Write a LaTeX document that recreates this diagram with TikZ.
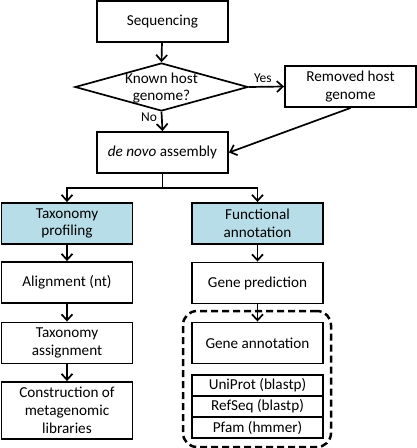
\documentclass[tikz,border=0pt]{standalone}
\usepackage{fontspec}
\setmainfont{Carlito}
\usetikzlibrary{arrows.meta,shapes.geometric}
\definecolor{hdrblue}{RGB}{183,222,232}
\tikzset{
  box/.style={draw, line width=1.9pt, minimum width=131pt, minimum height=41pt, inner sep=0pt, align=center, font=\fontsize{15.2}{17.8}\selectfont},
  hdr/.style={box, fill=hdrblue},
  dbbox/.style={box, minimum height=21pt},
  arr/.style={line width=1.7pt, -{Straight Barb[length=6pt,width=11pt,line width=1.7pt]}},
  conn/.style={line width=1.7pt},
  lbl/.style={font=\fontsize{13.5}{15}\selectfont, inner sep=0pt},
  grp/.style={draw, line width=2.5pt, dash pattern=on 7pt off 4pt, rounded corners=14pt, minimum width=148pt, minimum height=136pt, inner sep=0pt}
}
\begin{document}
\begin{tikzpicture}[x=1pt,y=-1pt]
\useasboundingbox (0,0) rectangle (417,448);
\node[box] (seq) at (162.5,21.5) {Sequencing};
\node[draw, diamond, line width=1.7pt, minimum width=173pt, minimum height=48pt, inner sep=0pt] (dia) at (161.5,87) {};
\node[align=center, inner sep=0pt, font=\fontsize{15.2}{17.8}\selectfont] (diatext) at (161.5,88) {Known host\\genome?};
\node[box] (rem) at (350.5,86.5) {Removed host\\genome};
\node[box] (asm) at (162.5,152.5) {\textit{de novo} assembly};
\node[hdr] (tax) at (67,223.5) {Taxonomy\\profiling};
\node[hdr] (fun) at (257.5,223.5) {Functional\\annotation};
\node[box] (aln) at (67,282.5) {Alignment (nt)};
\node[box] (gp) at (257.5,283) {Gene prediction};
\node[box] (tas) at (67,343) {Taxonomy\\assignment};
\node[box, minimum height=57pt] (con) at (67,410.5) {Construction of\\metagenomic\\libraries};
\node[grp] (grp) at (257,379) {};
\node[box] (ga) at (257.5,343) {Gene annotation};
\node[dbbox] (uni) at (257.5,385.5) {UniProt (blastp)};
\node[dbbox] (ref) at (257.5,406.5) {RefSeq (blastp)};
\node[dbbox] (pfam) at (257.5,427.5) {Pfam (hmmer)};
\coordinate (split) at (162.5,188);
\draw[arr] (seq) -- (dia.north);
\draw[arr] (dia.east) -- node[lbl, above=3pt, pos=0.4] (yes) {Yes} (rem.west);
\draw[arr] (dia.south) -- node[lbl, left=4pt, pos=0.3] (no) {No} (asm.north);
\draw[arr] (rem.south) -- (asm.east);
\draw[conn] (asm.south) -- (split);
\draw[arr] (split) -| (tax.north);
\draw[arr] (split) -| (fun.north);
\draw[arr] (tax) -- (aln);
\draw[arr] (aln) -- (tas);
\draw[arr] (tas) -- (con);
\draw[arr] (fun) -- (gp);
\draw[arr] (gp) -- (ga);
\end{tikzpicture}
\end{document}
